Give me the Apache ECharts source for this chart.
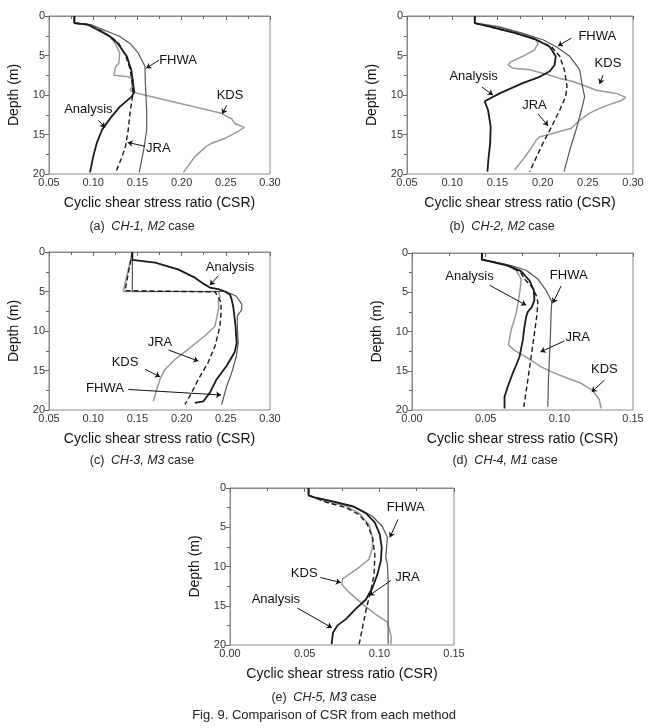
<!DOCTYPE html>
<html>
<head>
<meta charset="utf-8">
<script src="https://cdn.jsdelivr.net/npm/echarts@6/dist/echarts.min.js"></script>
<style>
  html, body { margin: 0; padding: 0; background: #fff; }
  #chart { width: 651px; height: 728px; }
</style>
</head>
<body>
<div id="chart"></div>
<script>
// CSR vs depth, pairs are [csr, depth(m)]
const aAnalysis = [[0.0787,0],[0.0787,0.9],[0.094,1.1],[0.106,1.8],[0.119,2.6],[0.128,3.5],[0.138,5.1],[0.143,6.8],[0.145,8.5],[0.1465,9.6],[0.1435,10.2],[0.130,11.5],[0.121,12.7],[0.1126,14.0],[0.110,14.4],[0.104,16.1],[0.100,17.8],[0.0964,19.8]]
const aJRA = [[0.0787,0],[0.0787,0.9],[0.094,1.1],[0.107,1.8],[0.120,2.6],[0.129,3.5],[0.137,5.1],[0.142,6.8],[0.144,8.5],[0.145,9.8],[0.142,12],[0.1395,14.5],[0.1365,16.5],[0.132,18],[0.1255,19.8]]
const aFHWA = [[0.0787,0],[0.0787,0.9],[0.098,1.1],[0.113,1.8],[0.130,2.6],[0.142,3.5],[0.151,4.7],[0.1586,6.4],[0.159,8.5],[0.1605,11.9],[0.1605,14.4],[0.157,17.0],[0.152,19.8]]
const aKDS = [[0.0787,0],[0.0787,0.9],[0.095,1.1],[0.110,1.8],[0.119,2.6],[0.125,3.5],[0.130,4.7],[0.129,6.0],[0.1254,6.4],[0.1235,7.5],[0.140,7.7],[0.1454,8.1],[0.144,8.9],[0.1416,9.4],[0.145,9.6],[0.151,9.8],[0.245,12.3],[0.251,12.7],[0.2566,13.0],[0.260,13.6],[0.271,14.1],[0.264,14.6],[0.249,15.5],[0.234,16.1],[0.228,16.5],[0.215,17.8],[0.202,19.8]]

const bAnalysis = [[0.1249,0],[0.1249,0.9],[0.1414,1.35],[0.171,2.2],[0.193,3.0],[0.208,3.9],[0.2145,5.1],[0.2133,6.2],[0.208,7.0],[0.1968,7.7],[0.178,8.5],[0.1525,9.8],[0.136,10.8],[0.1396,11.9],[0.1426,14.0],[0.142,16.1],[0.140,18.2],[0.139,19.7]]
const bJRA = [[0.1249,0],[0.1249,0.9],[0.1414,1.35],[0.171,2.2],[0.193,3.0],[0.21,3.9],[0.219,5.1],[0.224,6.8],[0.227,8.9],[0.2255,10.2],[0.219,11.9],[0.21,14.0],[0.2004,16.1],[0.1857,19.7]]
const bFHWA = [[0.1249,0],[0.1249,0.9],[0.149,1.35],[0.178,2.2],[0.2005,3.0],[0.215,3.9],[0.230,5.1],[0.241,6.8],[0.244,8.9],[0.2465,10.2],[0.243,11.9],[0.237,14.4],[0.230,17.0],[0.2237,19.7]]
const bKDS = [[0.1249,0],[0.1249,0.9],[0.1525,1.35],[0.178,2.2],[0.191,2.8],[0.195,3.5],[0.191,4.3],[0.178,5.1],[0.165,5.8],[0.1617,6.2],[0.167,6.6],[0.1857,6.8],[0.208,7.5],[0.219,7.9],[0.2336,8.3],[0.248,8.9],[0.2594,9.4],[0.2815,9.8],[0.292,10.3],[0.287,10.7],[0.2668,11.5],[0.252,12.3],[0.241,13.2],[0.2318,14.2],[0.2097,14.9],[0.1968,15.3],[0.193,15.7],[0.1857,17.0],[0.178,18.2],[0.169,19.5]]

const cAnalysis = [[0.1443,0],[0.1443,1.0],[0.170,1.35],[0.196,2.2],[0.215,3.25],[0.226,4.1],[0.232,4.5],[0.2415,4.7],[0.249,5.0],[0.2548,5.4],[0.2566,6.0],[0.2585,7.0],[0.2597,8.1],[0.261,9.4],[0.2623,11.5],[0.260,12.7],[0.251,14.4],[0.2397,16.1],[0.232,17.8],[0.2246,18.9],[0.215,19.1]]
const cJRA = [[0.1443,0],[0.136,4.9],[0.136,5.0],[0.238,5.05],[0.2397,5.4],[0.242,5.8],[0.2446,6.4],[0.2446,7.7],[0.2434,9.4],[0.2378,11.9],[0.230,14.0],[0.219,16.1],[0.2114,17.8],[0.2038,19.3]]
const cFHWA = [[0.1443,0],[0.1443,5.0],[0.250,5.0],[0.262,5.6],[0.268,6.6],[0.268,7.3],[0.263,8.1],[0.263,9.4],[0.264,11.5],[0.262,13.2],[0.2566,15.3],[0.251,17.0],[0.2453,19.3]]
const cKDS = [[0.1443,0],[0.134,5.0],[0.2415,5.0],[0.2434,5.6],[0.2415,6.2],[0.242,7.0],[0.2397,8.3],[0.2378,9.4],[0.2265,10.6],[0.2076,12.3],[0.1925,13.6],[0.181,14.9],[0.1755,16.1],[0.1718,17.4],[0.168,18.9]]

const dAnalysis = [[0.0474,0],[0.0474,0.85],[0.0515,1.0],[0.065,1.6],[0.074,2.3],[0.0797,3.5],[0.0827,4.75],[0.0831,6.0],[0.0813,6.9],[0.0786,7.5],[0.0775,8.1],[0.0763,9.4],[0.0752,11.1],[0.073,13.2],[0.0707,14.3],[0.0684,15.3],[0.065,17.0],[0.0628,18.3],[0.0628,19.8]]
const dJRA = [[0.0474,0],[0.0474,0.85],[0.0515,1.0],[0.065,1.6],[0.0735,2.4],[0.0763,3.3],[0.0813,4.3],[0.0843,5.4],[0.0854,6.2],[0.0849,7.7],[0.0831,10.25],[0.0809,13.2],[0.0786,16.2],[0.0759,19.6]]
const dFHWA = [[0.0474,0],[0.0474,0.85],[0.0515,1.0],[0.0673,1.6],[0.0775,2.2],[0.0854,3.3],[0.091,4.75],[0.0949,6.2],[0.0944,7.7],[0.094,10.25],[0.0933,13.2],[0.0926,16.2],[0.0922,19.6]]
const dKDS = [[0.0474,0],[0.0474,0.85],[0.0515,1.0],[0.0628,1.4],[0.0707,2.2],[0.074,3.3],[0.0736,4.3],[0.0723,6.0],[0.0707,7.7],[0.0673,9.8],[0.0655,11.7],[0.0696,12.4],[0.0786,13.4],[0.0876,14.5],[0.0967,15.3],[0.1035,15.8],[0.1148,16.6],[0.1226,17.5],[0.1272,18.7],[0.1283,19.8]]

const eAnalysis = [[0.0526,0],[0.0526,0.93],[0.0564,1.2],[0.0686,1.7],[0.082,2.3],[0.091,3.2],[0.097,4.4],[0.1003,5.9],[0.1016,7.6],[0.101,9.3],[0.0987,11.0],[0.0954,12.7],[0.091,14.2],[0.0842,15.4],[0.0776,16.7],[0.072,17.5],[0.069,18.4],[0.068,19.9]]
const eJRA = [[0.0526,0],[0.0526,0.93],[0.0564,1.2],[0.064,1.8],[0.0776,2.5],[0.0865,3.4],[0.092,4.65],[0.0954,6.3],[0.097,8.5],[0.0965,11.0],[0.0943,13.1],[0.091,15.6],[0.0887,17.8],[0.0865,19.9]]
const eFHWA = [[0.0526,0],[0.0526,0.93],[0.0564,1.2],[0.0709,1.8],[0.0842,2.5],[0.0954,3.6],[0.102,4.9],[0.1054,6.3],[0.1043,8.9],[0.1054,9.7],[0.1059,11.8],[0.1059,16.1],[0.1059,19.9]]
const eKDS = [[0.0526,0],[0.0526,0.93],[0.0564,1.2],[0.064,1.7],[0.0776,2.3],[0.0865,3.2],[0.093,4.65],[0.0954,6.3],[0.0954,7.6],[0.093,9.1],[0.0865,10.1],[0.0798,11.0],[0.0753,11.6],[0.0749,12.3],[0.0798,13.3],[0.0887,14.8],[0.0976,16.1],[0.1054,17.1],[0.107,18.2],[0.108,19.0],[0.1077,19.9]]

const depthTicks = [0, 5, 10, 15, 20]

// annotation: [text, textX, textY, arrowFromX, arrowFromY, arrowToX, arrowToY]
const aNotes = [['FHWA',0.196,5.57,0.1744,5.6,0.160,6.6],['KDS',0.2548,10.0,0.251,11.3,0.246,12.4],['Analysis',0.0945,11.8,0.1058,13.2,0.1133,14.1],['JRA',0.1737,16.75,0.1586,16.5,0.139,16.0]]
const bNotes = [['FHWA',0.2605,2.6,0.2318,2.8,0.217,3.8],['KDS',0.2723,6.0,0.2668,7.5,0.263,8.6],['Analysis',0.1237,7.7,0.133,9.0,0.145,10.0],['JRA',0.191,11.3,0.195,12.4,0.206,13.9]]
const cNotes = [['Analysis',0.2548,2.0,0.2415,3.0,0.232,4.2],['JRA',0.1755,11.5,0.185,12.4,0.219,13.8],['KDS',0.136,14.0,0.1586,14.85,0.1756,15.8],['FHWA',0.1133,17.3,0.1397,17.4,0.2446,18.1]]
const dNotes = [['Analysis',0.039,3.0,0.0526,4.1,0.0775,6.65],['FHWA',0.1064,2.85,0.1012,4.2,0.0955,6.4],['JRA',0.1125,10.7,0.1035,11.2,0.0872,12.6],['KDS',0.1306,14.8,0.1306,16.2,0.122,17.7]]
const eNotes = [['FHWA',0.1177,2.5,0.1125,4.0,0.107,6.3],['KDS',0.0497,10.9,0.0604,11.4,0.0742,12.05],['JRA',0.1188,11.4,0.1076,11.8,0.0932,13.7],['Analysis',0.0307,14.2,0.0452,15.3,0.0682,17.8]]

const FONT = 'Liberation Sans, Arial, Helvetica, sans-serif'

const panels = [
  { box: [49, 16, 221, 158], x: [0.05, 0.30], data: [aKDS, aFHWA, aJRA, aAnalysis], notes: aNotes, tag: '(a)', caseName: 'CH-1, M2', cap: [142, 227] },
  { box: [407, 16, 226, 158], x: [0.05, 0.30], data: [bKDS, bFHWA, bJRA, bAnalysis], notes: bNotes, tag: '(b)', caseName: 'CH-2, M2', cap: [502, 227] },
  { box: [49, 252, 221, 158], x: [0.05, 0.30], data: [cKDS, cFHWA, cJRA, cAnalysis], notes: cNotes, tag: '(c)', caseName: 'CH-3, M3', cap: [142, 461] },
  { box: [412, 253, 221, 157], x: [0, 0.15], data: [dKDS, dFHWA, dJRA, dAnalysis], notes: dNotes, tag: '(d)', caseName: 'CH-4, M1', cap: [505, 461] },
  { box: [230, 488, 224, 157], x: [0, 0.15], data: [eKDS, eFHWA, eJRA, eAnalysis], notes: eNotes, tag: '(e)', caseName: 'CH-5, M3', cap: [324, 698] }
]

const lineStyles = [
  { name: 'KDS', color: '#9a9a9a', width: 1.5, type: 'solid' },
  { name: 'FHWA', color: '#555555', width: 1.2, type: 'solid' },
  { name: 'JRA', color: '#1a1a1a', width: 1.4, type: [5, 3] },
  { name: 'Analysis', color: '#1a1a1a', width: 1.8, type: 'solid' }
]

const option = { animation: false, grid: [], xAxis: [], yAxis: [], series: [], graphic: [] }

panels.forEach((p, i) => {
  option.grid.push({
    left: p.box[0], top: p.box[1], width: p.box[2], height: p.box[3],
    show: true, borderColor: '#8a8a8a', borderWidth: 1
  })
  option.xAxis.push({
    gridIndex: i, type: 'value', min: p.x[0], max: p.x[1], interval: 0.05,
    name: 'Cyclic shear stress ratio (CSR)', nameLocation: 'middle', nameGap: 22,
    nameTextStyle: { fontSize: 14, color: '#111', fontFamily: FONT },
    axisLine: { lineStyle: { color: '#8a8a8a' } },
    axisTick: { length: 4, lineStyle: { color: '#666' } },
    minorTick: { show: true, splitNumber: 2, length: 3, lineStyle: { color: '#666' } },
    splitLine: { show: false },
    axisLabel: { fontSize: 11, color: '#333', margin: 3, fontFamily: FONT, formatter: v => v.toFixed(2) }
  })
  option.yAxis.push({
    gridIndex: i, type: 'value', min: depthTicks[0], max: depthTicks[depthTicks.length - 1],
    interval: depthTicks[1] - depthTicks[0], inverse: true,
    name: 'Depth (m)', nameLocation: 'middle', nameGap: 28,
    nameTextStyle: { fontSize: 14, color: '#111', fontFamily: FONT },
    axisLine: { lineStyle: { color: '#8a8a8a' } },
    axisTick: { length: 4, lineStyle: { color: '#666' } },
    minorTick: { show: true, splitNumber: 2, length: 3, lineStyle: { color: '#666' } },
    splitLine: { show: false },
    axisLabel: { fontSize: 11, color: '#333', margin: 4, fontFamily: FONT }
  })

  p.data.forEach((d, k) => {
    const s = lineStyles[k]
    option.series.push({
      type: 'line', name: s.name, xAxisIndex: i, yAxisIndex: i, data: d,
      symbol: 'none', smooth: false, z: 2 + k,
      lineStyle: { color: s.color, width: s.width, type: s.type }
    })
  })

  option.series.push({
    type: 'lines', coordinateSystem: 'cartesian2d', xAxisIndex: i, yAxisIndex: i,
    data: p.notes.map(n => ({ coords: [[n[3], n[4]], [n[5], n[6]]] })),
    symbol: ['none', 'arrow'], symbolSize: 5, z: 10,
    lineStyle: { color: '#111', width: 1, opacity: 1, curveness: 0 }
  })
  option.series.push({
    type: 'scatter', xAxisIndex: i, yAxisIndex: i, symbolSize: 0, z: 11,
    itemStyle: { color: '#111', opacity: 1 },
    data: p.notes.map(n => ({ value: [n[1], n[2]], name: n[0] })),
    label: { show: true, position: 'inside', formatter: '{b}', fontSize: 13, color: '#111', fontFamily: FONT }
  })

  option.graphic.push({
    type: 'text', x: p.cap[0], y: p.cap[1],
    style: {
      text: '{n|' + p.tag + '}  {i|' + p.caseName + '} {n|case}',
      align: 'center', verticalAlign: 'middle',
      textAlign: 'center', textVerticalAlign: 'middle',
      fill: '#222',
      rich: {
        n: { fontSize: 12.5, fontFamily: FONT, fill: '#222' },
        i: { fontSize: 12.5, fontFamily: FONT, fontStyle: 'italic', fill: '#222' }
      }
    }
  })
})

option.graphic.push({
  type: 'text', x: 324, y: 715,
  style: {
    text: 'Fig. 9. Comparison of CSR from each method',
    align: 'center', verticalAlign: 'middle',
    textAlign: 'center', textVerticalAlign: 'middle',
    fill: '#222', fontSize: 13, fontFamily: FONT
  }
})

const myChart = echarts.init(document.getElementById('chart'))
myChart.setOption(option)
</script>
</body>
</html>
